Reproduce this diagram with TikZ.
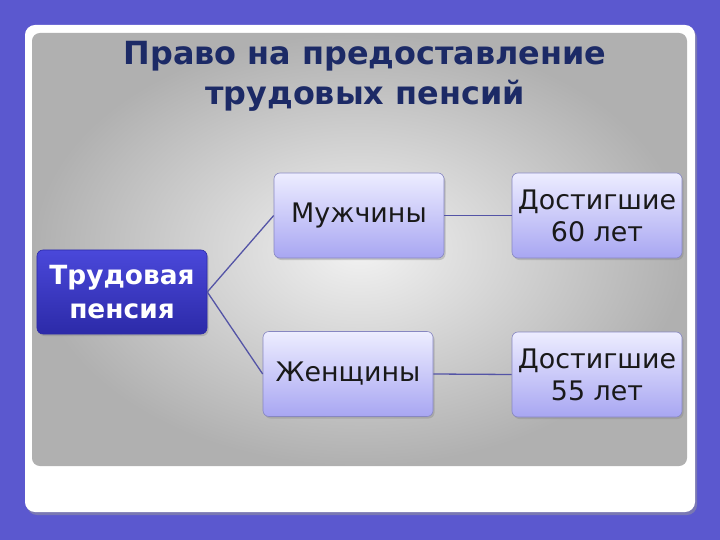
\documentclass[tikz,border=0pt]{standalone}
\usepackage{fontspec}
\setmainfont{DejaVu Sans}
\usetikzlibrary{shadows}
\definecolor{bgpurple}{HTML}{5B58CF}
\definecolor{titleblue}{HTML}{1C2A66}
\definecolor{linecol}{HTML}{5454A6}
\definecolor{lighttop}{HTML}{EDEDFF}
\definecolor{lightbot}{HTML}{A8A6F2}
\definecolor{darktop}{HTML}{4A48DA}
\definecolor{darkbot}{HTML}{2C2AA8}
\tikzset{
  lightbox/.style={draw=linecol!70, line width=0.6pt, rounded corners=6pt,
    top color=lighttop, bottom color=lightbot, minimum width=170bp, minimum height=85bp,
    inner sep=0pt, align=center, font=\fontsize{27}{32}\selectfont, text=black!90,
    drop shadow={shadow xshift=1.5bp, shadow yshift=-2bp, opacity=0.35}},
  darkbox/.style={draw=darkbot, line width=0.6pt, rounded corners=6pt,
    top color=darktop, bottom color=darkbot, minimum width=170bp, minimum height=84bp,
    inner sep=0pt, align=center, font=\bfseries\fontsize{26.5}{34}\selectfont, text=white,
    drop shadow={shadow xshift=1.5bp, shadow yshift=-2bp, opacity=0.35}},
  titletext/.style={font=\bfseries\fontsize{32}{40}\selectfont, text=titleblue, anchor=base},
  conn/.style={draw=linecol, line width=1.3pt}
}
\begin{document}
\begin{tikzpicture}[x=1bp,y=-1bp]
\fill[bgpurple] (0,0) rectangle (720,540);
\useasboundingbox (0,0) rectangle (720,540);
\fill[black!40, opacity=0.5, rounded corners=10pt] (27,28) rectangle (697,515);
\fill[white, rounded corners=10pt] (25,25) rectangle (695,512);
\shade[rounded corners=8pt, inner color=gray!10, outer color=gray!62] (32,33) rectangle (687,466);
\node[titletext] (title1) at (365,65) {Право на предоставление};
\node[titletext] (title2) at (365,105) {трудовых пенсий};
\node[darkbox] (tp) at (122,292) {Трудовая\\пенсия};
\node[lightbox] (m) at (359,215.5) {Мужчины};
\node[lightbox] (d60) at (597,215.5) {Достигшие\\60 лет};
\node[lightbox] (w) at (348,374) {Женщины};
\node[lightbox] (d55) at (597,374.5) {Достигшие\\55 лет};
\draw[conn] (tp.east) -- (m.west);
\draw[conn] (tp.east) -- (w.west);
\draw[conn] (m.east) -- (d60.west);
\draw[conn] (w.east) -- (d55.west);
\end{tikzpicture}
\end{document}
